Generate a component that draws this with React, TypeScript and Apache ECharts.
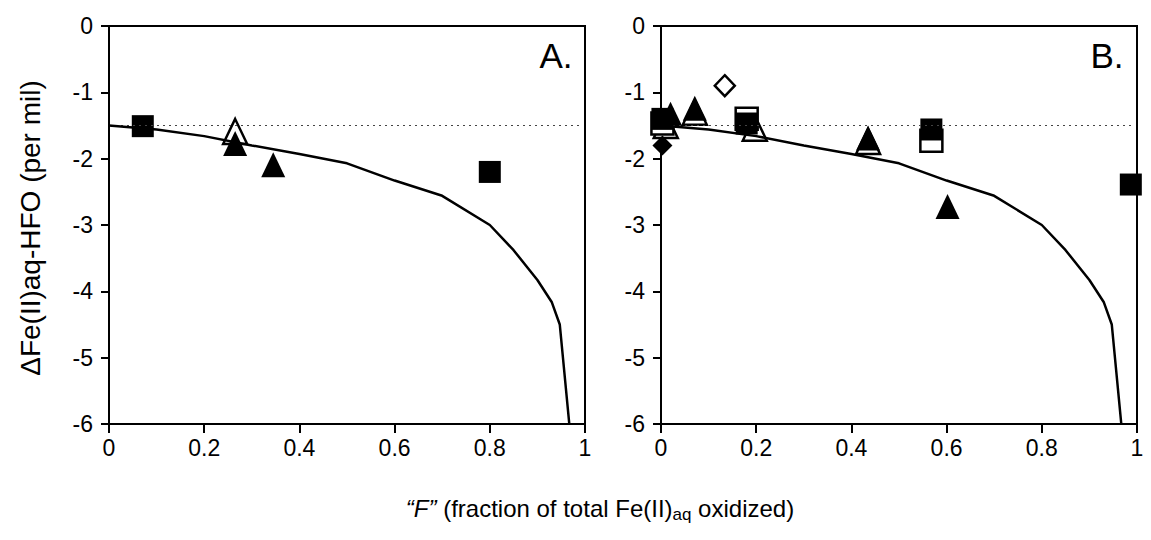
import React, { useEffect, useRef } from 'react';
import * as echarts from 'echarts';

// Model curve, shared by both panels
const curveF = [0, 0.1, 0.2, 0.3, 0.4, 0.5, 0.6, 0.7, 0.8, 0.85, 0.9, 0.93, 0.947, 0.967];
const curveDelta = [-1.5, -1.56, -1.66, -1.8, -1.93, -2.07, -2.33, -2.56, -3.0, -3.38, -3.83, -4.16, -4.5, -6.0];

// Reference (dotted) level
const refLevel = -1.5;
const refSpan = [0, 0.99];

// Panel A
const aFilledSquares = [[0.071, -1.51], [0.8, -2.2]];
const aFilledTriangles = [[0.265, -1.77], [0.345, -2.09]];
const aOpenTriangles = [[0.265, -1.59]];

// Panel B
const bFilledSquares = [[0.003, -1.4], [0.18, -1.47], [0.568, -1.56], [0.987, -2.39]];
const bOpenSquares = [[0.003, -1.47], [0.18, -1.4], [0.568, -1.73]];
const bFilledTriangles = [[0.02, -1.33], [0.071, -1.24], [0.435, -1.69], [0.602, -2.72]];
const bOpenTriangles = [[0.01, -1.5], [0.071, -1.3], [0.197, -1.54], [0.435, -1.74]];
const bFilledDiamonds = [[0.003, -1.8]];
const bOpenDiamonds = [[0.134, -0.9]];

const xMin = 0, xMax = 1, xStep = 0.2;
const yMin = -6, yMax = 0, yStep = 1;

const FONT = "'Liberation Sans', Arial, Helvetica, sans-serif";

export default function App() {
  const ref = useRef<HTMLDivElement>(null);

  useEffect(() => {
    document.body.style.margin = '0';
    if (!ref.current) return;
    const chart = echarts.init(ref.current, undefined, { renderer: 'svg' });

    const axisX = (gi: number) => ({
      type: 'value',
      gridIndex: gi,
      min: xMin,
      max: xMax,
      interval: xStep,
      axisLine: { show: true, onZero: false, lineStyle: { color: '#000', width: 2 } },
      axisTick: { show: true, inside: false, length: 9, lineStyle: { color: '#000', width: 2 } },
      splitLine: { show: false },
      axisLabel: { fontSize: 23, color: '#000', fontFamily: FONT, margin: 12 },
    });
    const axisY = (gi: number) => ({
      type: 'value',
      gridIndex: gi,
      min: yMin,
      max: yMax,
      interval: yStep,
      axisLine: { show: true, onZero: false, lineStyle: { color: '#000', width: 2 } },
      axisTick: { show: true, inside: false, length: 8, lineStyle: { color: '#000', width: 2 } },
      splitLine: { show: false },
      axisLabel: { fontSize: 23, color: '#000', fontFamily: FONT, margin: 16 },
    });

    const curve = curveF.map((f, i) => [f, curveDelta[i]]);
    const refLine = refSpan.map((f) => [f, refLevel]);

    const panelSeries = (gi: number, sets: any[]) => {
      const out: any[] = [
        {
          type: 'line', xAxisIndex: gi, yAxisIndex: gi, data: refLine, showSymbol: false, symbol: 'none',
          lineStyle: { color: '#444', width: 1, type: [2, 4] }, silent: true,
        },
        {
          type: 'line', xAxisIndex: gi, yAxisIndex: gi, data: curve, showSymbol: false, symbol: 'none',
          lineStyle: { color: '#000', width: 2.5 }, clip: true, silent: true,
        },
      ];
      sets.forEach((s) => {
        out.push({
          type: 'scatter', xAxisIndex: gi, yAxisIndex: gi, data: s.data, symbol: s.symbol,
          symbolSize: s.size,
          itemStyle: s.open
            ? { color: '#fff', borderColor: '#000', borderWidth: 2.5, opacity: 1 }
            : { color: '#000', borderColor: '#000', borderWidth: 0, opacity: 1 },
          clip: false,
        });
      });
      return out;
    };

    const tri = [24, 25];
    const sq = [22, 22];

    const option: any = {
      animation: false,
      backgroundColor: '#fff',
      grid: [
        { left: 109, top: 26, width: 476, height: 398, show: true, borderColor: '#000', borderWidth: 2, backgroundColor: 'transparent' },
        { left: 661, top: 26, width: 476, height: 398, show: true, borderColor: '#000', borderWidth: 2, backgroundColor: 'transparent' },
      ],
      xAxis: [axisX(0), axisX(1)],
      yAxis: [axisY(0), axisY(1)],
      series: [
        ...panelSeries(0, [
          { data: aOpenTriangles, symbol: 'triangle', size: tri, open: true },
          { data: aFilledTriangles, symbol: 'triangle', size: tri, open: false },
          { data: aFilledSquares, symbol: 'rect', size: sq, open: false },
        ]),
        ...panelSeries(1, [
          { data: bOpenTriangles, symbol: 'triangle', size: tri, open: true },
          { data: bOpenSquares, symbol: 'rect', size: sq, open: true },
          { data: bFilledTriangles, symbol: 'triangle', size: tri, open: false },
          { data: bFilledSquares, symbol: 'rect', size: sq, open: false },
          { data: bFilledDiamonds, symbol: 'diamond', size: [20, 20], open: false },
          { data: bOpenDiamonds, symbol: 'diamond', size: [20, 21], open: true },
        ]),
      ],
      graphic: [
        {
          type: 'text', x: 30, y: 228, rotation: Math.PI / 2,
          style: {
            text: 'ΔFe(II)aq-HFO (per mil)', fontSize: 28, fontFamily: FONT, fill: '#000',
            textAlign: 'center', textVerticalAlign: 'middle', align: 'center', verticalAlign: 'middle',
          },
        },
        {
          type: 'text', x: 600, y: 508,
          style: {
            text: '{i|“F”}{n| (fraction of total Fe(II)}{s|aq}{n| oxidized)}',
            fontSize: 24, fontFamily: FONT, fill: '#000',
            textAlign: 'center', textVerticalAlign: 'middle', align: 'center', verticalAlign: 'middle',
            rich: {
              i: { fontSize: 24, fontStyle: 'italic', fontFamily: FONT, fill: '#000' },
              n: { fontSize: 24, fontFamily: FONT, fill: '#000' },
              s: { fontSize: 17, fontFamily: FONT, fill: '#000', padding: [12, 0, 0, 0] },
            },
          },
        },
        {
          type: 'text', x: 556, y: 55,
          style: { text: 'A.', fontSize: 35, fontFamily: FONT, fill: '#000', textAlign: 'center', textVerticalAlign: 'middle', align: 'center', verticalAlign: 'middle' },
        },
        {
          type: 'text', x: 1107, y: 55,
          style: { text: 'B.', fontSize: 35, fontFamily: FONT, fill: '#000', textAlign: 'center', textVerticalAlign: 'middle', align: 'center', verticalAlign: 'middle' },
        },
      ],
    };

    chart.setOption(option);
    return () => chart.dispose();
  }, []);

  return <div ref={ref} style={{ width: 1151, height: 540 }} />;
}
